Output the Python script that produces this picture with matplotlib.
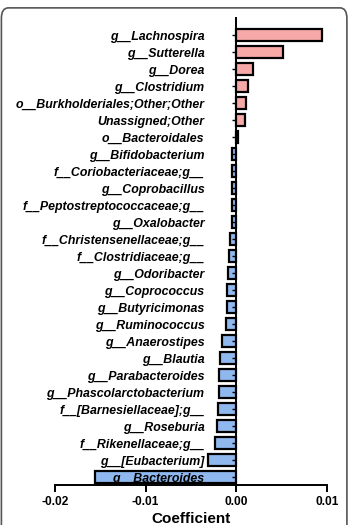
import matplotlib.pyplot as plt
from matplotlib.patches import FancyBboxPatch

taxa = [
    "g__Lachnospira", "g__Sutterella", "g__Dorea", "g__Clostridium",
    "o__Burkholderiales;Other;Other", "Unassigned;Other", "o__Bacteroidales",
    "g__Bifidobacterium", "f__Coriobacteriaceae;g__", "g__Coprobacillus",
    "f__Peptostreptococcaceae;g__", "g__Oxalobacter",
    "f__Christensenellaceae;g__", "f__Clostridiaceae;g__", "g__Odoribacter",
    "g__Coprococcus", "g__Butyricimonas", "g__Ruminococcus",
    "g__Anaerostipes", "g__Blautia", "g__Parabacteroides",
    "g__Phascolarctobacterium", "f__[Barnesiellaceae];g__", "g__Roseburia",
    "f__Rikenellaceae;g__", "g__[Eubacterium]", "g__Bacteroides",
]
coef = [
    0.00945, 0.0051, 0.0018, 0.0013, 0.0011, 0.0009, 0.0002,
    -0.0005, -0.0005, -0.0005, -0.0005, -0.0005,
    -0.0007, -0.00085, -0.0009, -0.001, -0.001, -0.0011,
    -0.0016, -0.0018, -0.0019, -0.0019, -0.002, -0.0021,
    -0.0023, -0.0031, -0.0156,
]

pos_color = "#f7a9a8"
neg_color = "#8fb8ee"

fig = plt.figure(figsize=(3.49, 5.25), dpi=100)
ax = fig.add_axes([0.1576, 0.0762, 0.7794, 0.8895])

# rounded frame around the whole panel
frame = FancyBboxPatch((0.004, -0.05), 0.99, 1.035,
                       boxstyle="round,pad=0,rounding_size=0.02",
                       transform=fig.transFigure, fill=False,
                       edgecolor="#555555", linewidth=1.2, clip_on=False)
fig.patches.append(frame)

# y axis sits at zero (set before tick labels, it resets them)
for s in ["top", "right"]:
    ax.spines[s].set_visible(False)
ax.spines["left"].set_position(("data", 0))
ax.spines["left"].set_linewidth(1.4)
ax.spines["bottom"].set_linewidth(1.4)

ypos = list(range(len(taxa)))
colors = [pos_color if v > 0 else neg_color for v in coef]
ax.barh(ypos, coef, height=0.72, color=colors, edgecolor="black", linewidth=1.6)

ax.set_xlim(-0.02, 0.01)
ax.set_ylim(len(taxa) - 1 + 0.47, -1.0)
ax.set_xticks([-0.02, -0.01, 0.0, 0.01])
ax.set_xticklabels(["-0.02", "-0.01", "0.00", "0.01"],
                   fontsize=8.6, fontweight="bold", family="Liberation Sans")
ax.set_yticks(ypos)
ax.set_yticklabels(taxa, fontsize=8.9, fontweight="bold", fontstyle="italic",
                   family="Liberation Sans")
ax.set_xlabel("Coefficient", fontsize=11, fontweight="bold",
              family="Liberation Sans", labelpad=2.5)

ax.tick_params(axis="x", length=5, width=1.4, pad=3)
ax.tick_params(axis="y", length=3, width=1, pad=20)

fig.savefig("out.png", dpi=100)
